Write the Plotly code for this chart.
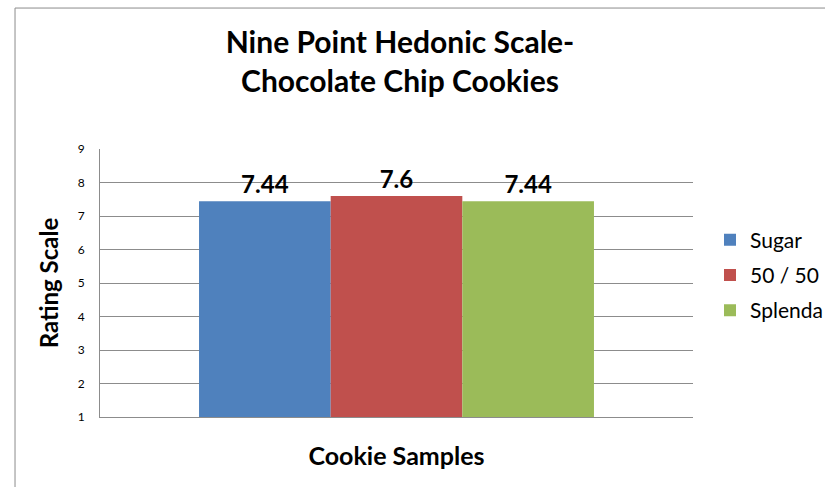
import plotly.graph_objects as go

# Sensory panel means on a nine point hedonic scale
category = ["Cookie Samples"]
series_names = ["Sugar", "50 / 50", "Splenda"]
series_values = [[7.44], [7.6], [7.44]]
series_colors = ["#4F81BD", "#C0504D", "#9BBB59"]
y_ticks = [1, 2, 3, 4, 5, 6, 7, 8, 9]
y_floor = 1

FONT = "Lato"

fig = go.Figure()
for name, vals, col in zip(series_names, series_values, series_colors):
    fig.add_trace(go.Bar(
        x=category, y=[v - y_floor for v in vals], base=y_floor,
        name=name, legendgroup=name, marker_color=col, marker_line_width=0,
        text=[f"<b>{v:g}</b>" for v in vals], textposition="outside",
        textfont=dict(family=FONT, size=24, color="#000000"),
        cliponaxis=False,
    ))

fig.update_layout(
    width=825, height=487,
    margin=dict(l=100, r=132, t=149, b=70),
    paper_bgcolor="white", plot_bgcolor="white",
    barmode="group", bargap=0.334, bargroupgap=0,
    title=dict(
        text="<b>Nine Point Hedonic Scale-<br>Chocolate Chip Cookies</b>",
        x=400 / 825, xanchor="center", y=1 - 53 / 487, yanchor="top",
        font=dict(family=FONT, size=30, color="#000000"),
    ),
    showlegend=True,
    legend=dict(
        xref="container", yref="container",
        x=710 / 825, y=1 - 275 / 487, xanchor="left", yanchor="middle",
        font=dict(family=FONT, size=21, color="#000000"),
        tracegroupgap=5, itemwidth=30,
    ),
    font=dict(family=FONT, color="#000000"),
)
fig.update_xaxes(
    showticklabels=False, showgrid=False,
    showline=True, linecolor="#8c8c8c", linewidth=1,
    title=dict(text="<b>Cookie Samples</b>", font=dict(size=25, family=FONT), standoff=30),
)
fig.update_yaxes(
    range=[y_ticks[0], y_ticks[-1]], tickvals=y_ticks,
    ticktext=[str(t) for t in y_ticks],
    showgrid=True, gridcolor="#8c8c8c", gridwidth=1,
    showline=True, linecolor="#8c8c8c", linewidth=1,
    ticks="", tickfont=dict(size=12, family=FONT, color="#000000"),
    ticklabelstandoff=12,
    title=dict(text="<b>Rating Scale</b>", font=dict(size=24, family=FONT), standoff=12),
)
# outer chart frame
fig.add_shape(type="rect", xref="paper", yref="paper",
              x0=-0.1433, x1=1.5, y0=-0.6, y1=1.526,
              line=dict(color="#8c8c8c", width=1), fillcolor="rgba(0,0,0,0)", layer="below")

fig.write_html("out.html")
